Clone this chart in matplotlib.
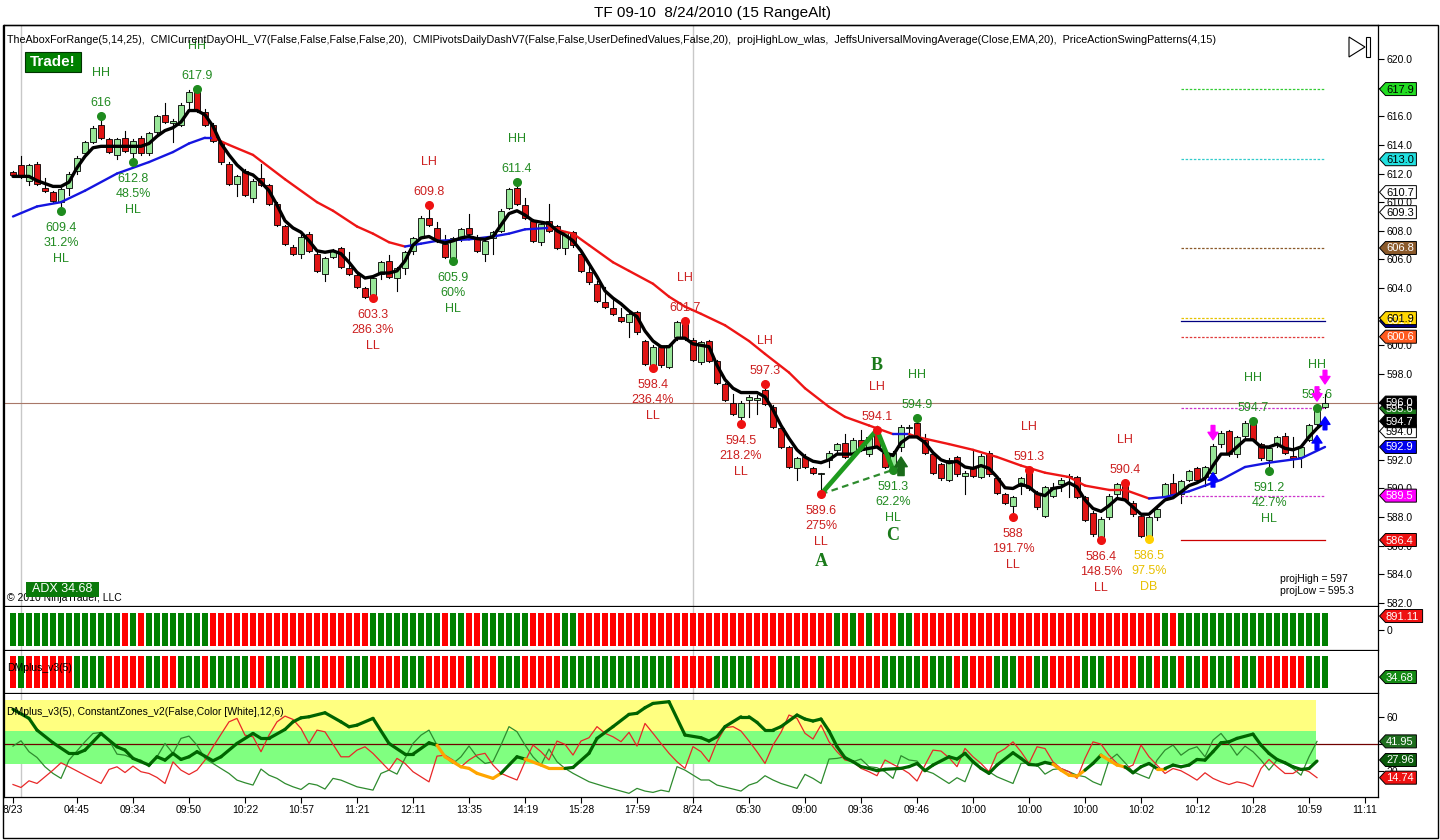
import matplotlib
matplotlib.use("Agg")
import matplotlib.pyplot as plt
from matplotlib.patches import Rectangle, Polygon
import numpy as np

plt.rcParams['font.family'] = ['Liberation Sans', 'DejaVu Sans']

# ---------------- data ----------------
opens = [612.1, 612.6, 611.5, 612.7, 611.0, 610.7, 610.0, 611.0, 612.2, 613.4,
         614.2, 615.4, 614.4, 613.3, 614.5, 613.4, 614.5, 613.4, 614.9, 616.1,
         615.5, 615.4, 617.0, 617.8, 616.3, 615.4, 614.2, 612.7, 611.3, 612.2,
         610.3, 611.7, 611.2, 609.9, 608.3, 606.9, 606.4, 607.8, 606.4, 605.0,
         606.2, 606.8, 605.4, 604.9, 604.0, 603.5, 605.0, 605.9, 604.7, 605.4,
         606.6, 607.6, 608.9, 608.2, 607.1, 606.1, 607.5, 608.2, 607.6, 606.4,
         607.5, 608.0, 609.6, 611.0, 609.8, 608.7, 607.2, 608.7, 608.3, 606.8,
         607.9, 606.4, 605.1, 604.3, 603.0, 602.6, 602.0, 601.6, 602.3, 600.3,
         598.6, 599.9, 598.5, 600.6, 601.6, 600.4, 598.8, 600.3, 598.9, 597.3,
         596.0, 595.0, 596.2, 596.2, 596.9, 595.7, 594.2, 592.9, 591.4, 592.2,
         591.4, 591.0, 592.0, 592.7, 593.2, 592.5, 593.4, 592.4, 593.9, 592.5,
         591.4, 592.9, 594.2, 594.6, 593.4, 592.4, 591.7, 590.6, 592.2, 590.9,
         591.4, 590.8, 592.5, 590.7, 589.6, 588.8, 590.2, 591.3, 589.7, 588.1,
         589.5, 590.3, 590.9, 590.8, 589.4, 588.3, 586.6, 588.0, 589.6, 590.4,
         589.0, 588.1, 586.6, 588.0, 589.4, 590.4, 589.6, 590.6, 591.4, 590.8,
         591.1, 593.1, 594.0, 592.4, 593.7, 594.7, 593.1, 592.0, 593.1, 593.7,
         592.3, 592.2, 593.4, 594.5, 595.7]
closes = [611.9, 611.8, 612.6, 611.3, 610.8, 610.1, 610.9, 612.0, 613.1, 614.2,
          615.2, 614.5, 613.5, 614.4, 613.6, 614.3, 613.4, 614.8, 616.0, 615.6,
          615.7, 616.8, 617.7, 616.4, 615.4, 614.3, 612.8, 611.3, 611.8, 610.5,
          611.5, 611.2, 609.9, 608.4, 607.1, 606.4, 607.6, 606.6, 605.2, 606.1,
          606.6, 605.5, 605.0, 604.1, 603.4, 604.7, 605.8, 604.8, 605.4, 606.5,
          607.5, 608.9, 608.4, 607.3, 606.2, 607.5, 608.1, 607.8, 606.6, 607.3,
          607.9, 609.4, 610.9, 609.9, 608.9, 607.3, 608.5, 608.0, 606.8, 607.9,
          607.0, 605.2, 604.4, 603.1, 602.7, 602.2, 601.7, 602.2, 600.9, 598.7,
          599.9, 598.6, 600.0, 601.6, 600.5, 599.0, 600.2, 598.9, 597.4, 596.2,
          595.2, 596.0, 596.4, 596.3, 595.9, 594.3, 592.9, 591.5, 592.1, 591.5,
          591.1, 591.1, 592.5, 593.1, 592.2, 593.4, 592.7, 593.6, 592.9, 591.5,
          592.5, 594.3, 594.3, 593.6, 592.5, 591.1, 590.7, 592.0, 591.0, 591.1,
          590.9, 592.3, 591.0, 589.7, 589.0, 589.4, 590.7, 590.0, 588.7, 590.1,
          590.1, 590.6, 590.8, 589.4, 587.8, 586.8, 587.9, 589.5, 590.3, 589.2,
          588.2, 586.7, 588.0, 588.6, 590.3, 589.6, 590.5, 591.2, 590.6, 591.5,
          593.0, 593.9, 592.4, 593.6, 594.6, 593.4, 592.1, 592.8, 593.6, 592.5,
          592.1, 592.9, 594.4, 595.6, 596.0]
highs = [612.2, 613.2, 612.7, 612.8, 611.7, 610.8, 611.0, 612.1, 613.2, 614.3,
         615.3, 616.0, 614.5, 614.5, 615.0, 614.4, 614.6, 614.9, 616.1, 616.9,
         615.8, 616.9, 617.8, 617.9, 616.5, 615.5, 614.3, 612.8, 611.9, 612.3,
         611.6, 612.7, 611.3, 610.0, 608.4, 607.0, 607.7, 607.9, 606.5, 606.2,
         606.7, 606.9, 606.5, 605.0, 604.1, 604.8, 605.9, 606.3, 605.5, 606.6,
         607.6, 609.0, 609.8, 608.6, 607.7, 607.6, 608.2, 609.2, 607.7, 607.4,
         608.0, 609.5, 611.0, 611.4, 610.3, 608.8, 608.6, 609.9, 608.4, 608.0,
         608.0, 606.5, 605.5, 604.5, 604.1, 603.3, 602.6, 602.3, 602.4, 600.4,
         600.0, 600.0, 600.1, 601.7, 601.7, 600.5, 600.3, 600.4, 599.0, 597.4,
         596.6, 596.1, 596.5, 596.5, 597.3, 595.8, 594.3, 593.0, 592.2, 592.4,
         591.5, 591.1, 592.6, 593.2, 593.8, 593.5, 594.1, 593.7, 594.1, 592.6,
         592.6, 594.4, 594.4, 594.9, 593.8, 592.5, 591.8, 592.1, 592.3, 591.2,
         592.6, 592.4, 592.6, 590.8, 589.7, 589.5, 590.8, 591.3, 589.8, 590.2,
         590.4, 590.7, 591.0, 590.9, 589.5, 588.4, 588.0, 589.6, 590.4, 590.4,
         589.1, 588.2, 588.1, 588.7, 590.4, 591.0, 590.6, 591.3, 591.5, 591.6,
         593.1, 594.0, 594.1, 593.7, 594.7, 594.7, 593.2, 592.9, 593.7, 593.9,
         593.6, 593.0, 594.5, 595.6, 596.6]
lows = [611.8, 611.7, 611.2, 611.2, 610.7, 610.0, 609.4, 610.5, 612.0, 613.2,
        614.1, 614.4, 613.4, 613.0, 613.5, 612.8, 613.3, 613.3, 614.6, 615.5,
        614.2, 615.3, 616.5, 616.3, 615.3, 614.2, 612.7, 611.2, 610.4, 610.4,
        610.0, 611.1, 609.8, 608.3, 607.0, 606.3, 606.1, 606.5, 605.1, 604.5,
        606.1, 605.4, 604.9, 604.0, 603.3, 603.3, 604.6, 604.7, 603.8, 605.0,
        606.4, 607.5, 608.3, 607.2, 606.1, 605.9, 607.3, 607.7, 606.5, 605.9,
        606.4, 607.9, 609.5, 609.8, 608.8, 607.2, 607.0, 607.9, 606.7, 606.4,
        606.9, 605.1, 604.3, 603.0, 602.6, 602.1, 601.6, 600.6, 600.8, 598.6,
        598.4, 598.5, 598.4, 600.4, 600.4, 598.9, 598.7, 598.8, 597.3, 596.1,
        595.1, 594.5, 595.0, 595.2, 595.8, 594.2, 592.8, 591.4, 590.6, 591.4,
        591.0, 589.6, 591.5, 592.5, 592.1, 592.3, 592.6, 592.3, 592.8, 591.4,
        591.3, 592.6, 593.6, 593.5, 592.4, 591.0, 590.6, 590.5, 590.9, 589.6,
        590.8, 590.7, 590.9, 589.6, 588.9, 588.0, 589.6, 589.9, 588.6, 588.0,
        589.4, 589.8, 589.4, 589.3, 587.7, 586.7, 586.4, 587.9, 589.5, 589.1,
        588.1, 586.6, 586.5, 587.8, 589.2, 589.5, 589.0, 590.5, 590.5, 590.2,
        591.0, 592.9, 592.3, 592.2, 593.5, 593.3, 592.0, 591.2, 592.9, 592.4,
        591.5, 591.5, 593.3, 594.4, 595.6]

# fast moving average (black), read per bar
fast_ma = [611.8, 611.8, 611.8, 611.5, 611.3, 611.1, 611.1, 611.4, 612.4, 613.2,
           613.8, 613.9, 613.9, 613.9, 613.9, 613.9, 613.9, 614.1, 614.6, 615.0,
           615.2, 615.6, 616.4, 616.4, 616.1, 615.3, 614.1, 613.3, 612.6, 612.1,
           611.9, 611.4, 610.8, 609.8, 608.7, 608.2, 607.9, 607.3, 606.6, 606.5,
           606.6, 606.4, 605.8, 605.1, 604.7, 604.8, 605.05, 605.05, 605.2, 605.9,
           607.0, 607.5, 607.6, 607.3, 607.15, 607.3, 607.5, 607.6, 607.45, 607.4,
           607.6, 608.4, 609.2, 609.4, 609.1, 608.7, 608.6, 608.5, 608.0, 607.7,
           607.3, 606.6, 605.7, 604.8, 603.8, 603.3, 602.9, 602.4, 602.0, 601.0,
           600.3, 599.9, 599.9, 600.5, 600.5, 600.1, 600.0, 599.9, 598.6, 597.6,
           597.0, 596.7, 596.7, 596.7, 596.4, 595.5, 594.4, 593.5, 592.7, 592.2,
           591.9, 591.8, 592.0, 592.4, 592.4, 592.4, 592.7, 592.8, 592.9, 592.5,
           592.3, 593.2, 593.6, 593.6, 593.2, 592.5, 592.0, 591.8, 591.9, 591.5,
           591.4, 591.6, 591.4, 590.8, 590.05, 590.0, 590.3, 590.1, 589.65, 589.5,
           590.0, 590.1, 590.4, 590.1, 589.2, 588.6, 588.4, 588.8, 589.3, 589.2,
           588.7, 588.2, 588.2, 588.7, 589.2, 589.35, 589.75, 590.2, 590.4, 590.7,
           591.6, 592.4, 592.4, 592.9, 593.4, 593.4, 592.9, 592.9, 593.1, 592.8,
           592.7, 592.9, 593.6, 594.2, 594.7]

# slow moving average (blue rising / red falling), read at sample bars
slow_idx = [0, 3, 6, 9, 13, 17, 20, 22, 24, 25, 27, 30, 34, 38, 40, 43, 45, 47, 49, 51,
            53, 57, 60, 62, 64, 67, 70, 72, 75, 77, 80, 82, 84, 86, 89, 92, 94, 97, 99, 102,
            104, 107, 110, 112, 113, 117, 120, 123, 126, 129, 132, 134, 137, 139, 142, 144,
            147, 151, 154, 157, 161, 164]
slow_val = [609.0, 609.7, 610.0, 610.8, 612.0, 612.8, 613.5, 614.1, 614.5, 614.5,
            614.0, 613.3, 611.6, 610.0, 609.4, 608.3, 607.8, 607.2, 606.9, 607.1,
            607.3, 607.4, 607.6, 607.8, 608.1, 608.2, 607.8, 607.0, 605.8, 605.2,
            604.3, 603.4, 602.7, 602.2, 601.4, 600.3, 599.4, 598.1, 597.0, 595.7,
            595.0, 594.4, 593.8, 593.8, 593.6, 593.1, 592.7, 592.2, 591.6, 591.1,
            590.8, 590.2, 589.9, 589.9, 589.3, 589.4, 589.8, 590.6, 591.5, 591.8,
            592.1, 592.9]
slow_trend = ("BBBBBBBBB" + "RRRRRRRRR" + "BBBBBBB" + "RRRRRRRRRRRRRRRRR" + "B"
              + "RRRRRRRRRRR" + "BBBBBBBB")

# swing points
sw_hi_idx = [11, 23, 52, 63, 84, 94, 108, 113, 127, 139, 155, 163]
sw_hi_val = [616.0, 617.9, 609.8, 611.4, 601.7, 597.3, 594.1, 594.9, 591.3, 590.4, 594.7, 595.6]
sw_hi_txt = ['616', '617.9', '609.8', '611.4', '601.7', '597.3', '594.1', '594.9', '591.3', '590.4', '594.7', '595.6']
sw_hi_type = ['HH', 'HH', 'LH', 'HH', 'LH', 'LH', 'LH', 'HH', 'LH', 'LH', 'HH', 'HH']
sw_lo_idx = [6, 15, 45, 55, 80, 91, 101, 110, 125, 136, 142, 157]
sw_lo_val = [609.4, 612.8, 603.3, 605.9, 598.4, 594.5, 589.6, 591.3, 588.0, 586.4, 586.5, 591.2]
sw_lo_txt = ['609.4', '612.8', '603.3', '605.9', '598.4', '594.5', '589.6', '591.3', '588', '586.4', '586.5', '591.2']
sw_lo_pct = ['31.2%', '48.5%', '286.3%', '60%', '236.4%', '218.2%', '275%', '62.2%', '191.7%', '148.5%', '97.5%', '42.7%']
sw_lo_type = ['HL', 'HL', 'LL', 'HL', 'LL', 'LL', 'LL', 'HL', 'LL', 'LL', 'DB', 'HL']

abc_idx = [101, 108, 110]
abc_val = [589.6, 594.1, 591.3]
abc_lbl = ['A', 'B', 'C']

# projected levels drawn at right side
lvl_val = [617.9, 613.0, 606.8, 601.9, 601.7, 600.6, 595.6, 589.5, 586.4]
lvl_col = ['#33CC33', '#33CCCC', '#8B5A2B', '#E6C200', '#000080', '#E03C3C', '#CC33CC', '#CC33CC', '#CC0000']
lvl_ls = ['--', '--', '--', '--', '-', '--', '--', '--', '-']
lvl_start, lvl_end = 146, 164

# arrows near the end
up_idx = [150, 163, 164]
up_tail = [590.1, 592.7, 594.1]
up_head = [591.1, 593.7, 595.0]
dn_idx = [150, 163, 164]
dn_tail = [594.4, 597.1, 598.25]
dn_head = [593.4, 596.1, 597.3]
sig_idx, sig_tail, sig_head = 111, 590.9, 592.2

last_price = 596.0
session_idx = [1, 85]

# right axis tags
ptag_val = [617.9, 613.0, 610.7, 609.3, 606.8, 601.7, 601.9, 600.6, 595.6, 596.0, 594.0, 594.7, 592.9, 589.5, 586.4]
ptag_txt = ['617.9', '613.0', '610.7', '609.3', '606.8', '601.7', '601.9', '600.6', '595.6', '596.0', '594.0', '594.7', '592.9', '589.5', '586.4']
ptag_fc = ['#22DD22', '#22E0E0', 'white', 'white', '#8B5A2B', '#000080', '#FFD700', '#FF5A1F', '#1E7B1E',
           'black', 'white', 'black', '#0000EE', '#FF00FF', '#EE1111']
ptag_tc = ['black', 'black', 'black', 'black', 'white', 'white', 'black', 'white', 'white',
           'white', 'black', 'white', 'white', 'white', 'white']

# indicator strips (G = green, R = red)
strip1_runs = [('G', 14), ('R', 1), ('G', 1), ('R', 1), ('G', 8), ('R', 20), ('G', 9), ('R', 1), ('G', 2),
               ('R', 2), ('G', 6), ('R', 4), ('G', 2), ('R', 32), ('G', 1), ('R', 1), ('G', 1), ('R', 1),
               ('G', 1), ('R', 3), ('G', 2), ('R', 31), ('G', 1), ('R', 1), ('G', 19)]
strip2_runs = [('R', 1), ('G', 1), ('R', 6), ('G', 4), ('R', 5), ('G', 2), ('R', 2), ('G', 3), ('R', 1),
               ('G', 5), ('R', 2), ('G', 4), ('R', 1), ('G', 2), ('R', 3), ('G', 3), ('R', 4), ('G', 3),
               ('R', 5), ('G', 1), ('R', 3), ('G', 3), ('R', 5), ('G', 14), ('R', 5), ('G', 5), ('R', 3),
               ('G', 3), ('R', 2), ('G', 1), ('R', 7), ('G', 5), ('R', 1), ('G', 3), ('R', 1), ('G', 1),
               ('R', 3), ('G', 3), ('R', 2), ('G', 2), ('R', 4), ('G', 3), ('R', 4), ('G', 2), ('R', 1),
               ('G', 2), ('R', 1), ('G', 2), ('R', 1), ('G', 3), ('R', 1), ('G', 2), ('R', 6), ('G', 3)]

# oscillator lines
adx_idx = [0, 2, 3, 5, 7, 8, 9, 11, 13, 14, 15, 17, 18, 19, 20, 21, 22, 23, 25, 26, 28, 30, 31, 32, 34,
           35, 36, 37, 39, 41, 42, 43, 45, 47, 49, 50, 52, 53, 54, 55, 56, 57, 58, 60, 61, 63, 64, 66,
           67, 69, 70, 72, 73, 75, 77, 78, 79, 80, 82, 84, 86, 87, 88, 89, 91, 92, 93, 94, 95, 96, 98,
           99, 100, 101, 102, 103, 104, 105, 106, 107, 108, 109, 111, 112, 113, 114, 115, 117, 118,
           119, 120, 121, 122, 123, 125, 126, 127, 128, 129, 130, 131, 132, 133, 134, 135, 136, 137,
           138, 139, 140, 141, 142, 143, 144, 145, 146, 147, 148, 149, 150, 151, 152, 153, 155, 156,
           157, 158, 159, 160, 161, 162, 163]
adx_val = [66.0, 59.2, 50.4, 40.9, 32.9, 32.9, 35.4, 47.9, 37.9, 35.4, 29.2, 24.2, 30.4, 27.9, 32.9,
           28.4, 30.4, 34.2, 27.4, 30.4, 40.4, 47.9, 44.2, 44.2, 50.9, 56.6, 59.6, 60.4, 63.4, 56.6,
           52.9, 54.1, 59.2, 40.4, 32.4, 32.4, 40.9, 39.1, 30.4, 26.6, 22.9, 21.7, 18.0, 14.2, 18.0,
           30.4, 28.7, 24.2, 21.7, 21.7, 22.4, 33.0, 44.2, 53.0, 62.2, 63.0, 67.2, 70.4, 71.7, 46.7,
           44.7, 42.2, 45.4, 53.0, 60.4, 60.4, 56.2, 50.4, 50.4, 53.0, 61.7, 58.7, 57.2, 58.7, 49.7,
           38.0, 29.7, 26.7, 23.0, 21.7, 20.0, 21.0, 21.7, 23.0, 25.4, 20.0, 24.2, 30.4, 28.7, 33.0,
           26.7, 21.7, 18.0, 24.2, 33.4, 29.2, 24.6, 24.2, 26.2, 24.9, 20.4, 16.6, 15.9, 20.4, 25.4,
           31.6, 27.9, 24.2, 22.9, 18.4, 22.9, 25.4, 21.6, 21.6, 24.2, 22.9, 24.2, 28.4, 27.9, 34.2,
           40.9, 41.6, 44.2, 47.4, 39.2, 32.9, 28.4, 25.9, 22.9, 20.9, 21.6, 27.2]
adx_orange_from = [53, 54, 55, 56, 57, 58, 60, 64, 66, 67, 130, 131, 132, 133, 136, 137, 138, 143]

dip_idx = [0, 1, 2, 3, 4, 5, 6, 7, 9, 10, 11, 12, 13, 14, 15, 16, 17, 18, 19, 20, 21, 22, 23, 24, 26,
           27, 28, 29, 30, 31, 32, 33, 34, 35, 36, 37, 38, 39, 40, 41, 42, 43, 45, 46, 47, 48, 49, 50,
           51, 52, 53, 54, 55, 56, 57, 58, 59, 60, 61, 62, 63, 64, 65, 66, 67, 68, 69, 70, 72, 74, 76,
           77, 78, 79, 80, 81, 82, 83, 84, 86, 87, 88, 90, 91, 92, 93, 94, 95, 96, 98, 99, 100, 101,
           102, 103, 104, 105, 106, 107, 108, 109, 110, 111, 112, 113, 114, 115, 116, 117, 118, 119,
           120, 121, 122, 123, 125, 126, 127, 128, 129, 130, 131, 132, 133, 134, 135, 136, 137, 138,
           139, 140, 141, 142, 143, 144, 145, 146, 147, 148, 149, 150, 151, 152, 153, 154, 155, 156,
           157, 158, 159, 160, 161, 162, 163]
dip_val = [38.4, 42.4, 34.2, 29.9, 22.9, 17.9, 14.2, 27.9, 41.7, 47.9, 48.6, 42.9, 32.4, 31.6, 29.2,
           27.9, 22.9, 30.4, 40.4, 32.9, 44.2, 45.9, 39.1, 29.2, 21.6, 17.9, 12.9, 10.9, 9.2, 21.2,
           16.6, 14.2, 10.4, 7.9, 5.9, 10.4, 9.2, 6.2, 14.2, 12.9, 10.4, 7.9, 5.4, 17.9, 20.4, 17.4,
           29.2, 40.4, 46.6, 50.4, 39.1, 30.4, 25.4, 30.4, 38.5, 30.4, 25.4, 26.7, 39.2, 53.0, 49.2,
           39.2, 30.4, 24.2, 36.2, 26.7, 21.7, 18.0, 11.7, 8.0, 4.7, 3.0, 6.7, 4.7, 3.7, 5.4, 4.2,
           23.0, 20.4, 13.0, 13.0, 9.2, 6.2, 4.7, 9.2, 11.2, 16.2, 13.0, 10.4, 6.7, 17.2, 14.2, 10.4,
           28.7, 29.2, 30.4, 26.7, 28.7, 23.0, 22.2, 19.2, 14.2, 31.2, 28.0, 27.2, 20.0, 18.0, 14.2,
           10.4, 14.7, 11.7, 26.7, 21.7, 19.2, 15.4, 10.4, 25.4, 25.9, 24.2, 17.4, 20.9, 21.6, 19.2,
           16.6, 15.4, 11.6, 9.2, 27.9, 32.4, 25.9, 19.2, 16.6, 14.2, 27.9, 35.4, 39.2, 31.6, 35.9,
           37.9, 30.4, 42.9, 47.9, 40.4, 31.6, 38.4, 34.2, 27.9, 20.4, 27.9, 25.4, 21.6, 16.6, 30.4,
           41.95]

dim_idx = [0, 1, 2, 3, 4, 5, 6, 7, 9, 11, 12, 13, 14, 15, 16, 17, 18, 19, 20, 21, 22, 23, 24, 25, 27,
           28, 29, 30, 31, 32, 33, 34, 35, 36, 37, 38, 39, 41, 42, 43, 44, 45, 46, 47, 48, 49, 50, 51,
           52, 53, 54, 55, 56, 57, 58, 59, 60, 61, 62, 63, 64, 65, 66, 67, 68, 69, 70, 71, 72, 73, 74,
           75, 76, 77, 78, 79, 80, 81, 82, 83, 84, 85, 86, 87, 88, 89, 90, 91, 92, 93, 94, 95, 96, 97,
           98, 99, 100, 101, 102, 103, 104, 105, 106, 107, 108, 109, 110, 111, 112, 113, 114, 115, 116,
           117, 118, 119, 120, 121, 122, 123, 124, 125, 126, 127, 128, 129, 130, 131, 132, 133, 134,
           135, 136, 137, 138, 139, 140, 141, 142, 143, 144, 145, 146, 147, 148, 149, 150, 151, 152,
           153, 154, 155, 156, 157, 158, 159, 160, 161, 162, 163]
dim_val = [9.6, 7.4, 12.4, 10.4, 15.4, 20.4, 25.9, 22.9, 16.6, 10.4, 20.9, 22.9, 18.6, 23.4, 19.2,
           17.9, 14.9, 10.4, 26.6, 20.4, 17.1, 20.4, 27.9, 37.9, 56.6, 59.2, 46.6, 45.4, 34.2, 46.6,
           56.6, 60.9, 58.4, 51.6, 40.4, 50.4, 49.1, 30.4, 30.4, 35.4, 37.9, 32.9, 26.6, 20.4, 29.2,
           25.4, 19.2, 15.4, 11.6, 30.9, 31.6, 27.9, 22.9, 28.0, 31.7, 33.0, 24.2, 18.0, 15.4, 13.0,
           26.7, 39.2, 34.2, 28.0, 42.2, 39.7, 31.7, 42.2, 44.7, 53.0, 48.0, 45.4, 41.7, 48.7, 38.4,
           55.4, 48.0, 40.4, 33.0, 26.7, 21.7, 38.0, 34.2, 26.7, 41.7, 52.2, 53.0, 49.7, 42.2, 34.2,
           25.4, 39.2, 48.7, 61.7, 59.2, 48.0, 43.7, 54.2, 41.7, 34.2, 28.0, 26.7, 21.7, 19.2, 16.2,
           28.0, 24.7, 21.7, 18.0, 12.2, 24.2, 35.4, 34.7, 29.7, 23.0, 36.7, 30.4, 25.4, 19.2, 33.0,
           36.5, 41.6, 34.2, 25.4, 37.9, 36.6, 26.6, 21.6, 19.2, 14.2, 29.2, 41.6, 39.9, 31.6, 25.4,
           21.6, 24.2, 39.2, 30.4, 24.2, 17.9, 21.6, 19.9, 16.6, 12.9, 18.4, 14.2, 11.6, 9.6, 11.6,
           10.4, 7.9, 21.6, 28.4, 22.9, 17.9, 17.9, 21.6, 19.2, 14.74]

zone_green = (25, 50)
zone_yellow = (50, 73)
osc_ref = 40
zone_end = 162.9

time_idx = [0, 8, 15, 22, 29, 36, 43, 50, 57, 64, 71, 78, 85, 92, 99, 106, 113, 120, 127, 134, 141, 148, 155, 162, 169]
time_lbl = ['8/23', '04:45', '09:34', '09:50', '10:22', '10:57', '11:21', '12:11', '13:35', '14:19', '15:28',
            '17:59', '8/24', '05:30', '09:00', '09:36', '09:46', '10:00', '10:00', '10:00', '10:02', '10:12',
            '10:28', '10:59', '11:11']

# ---------------- layout ----------------
W, H = 1440, 840
fig = plt.figure(figsize=(W / 100, H / 100), dpi=100)
fig.patch.set_facecolor('white')


def px_rect(x0, y0, x1, y1):
    return [x0 / W, 1 - y1 / H, (x1 - x0) / W, (y1 - y0) / H]


XL, XR = 4, 1378
ax = fig.add_axes(px_rect(XL, 25, XR, 606))
ax2 = fig.add_axes(px_rect(XL, 607, XR, 650))
ax3 = fig.add_axes(px_rect(XL, 651, XR, 693))
ax4 = fig.add_axes(px_rect(XL, 694, XR, 797))
XMIN, XMAX = -1.125, 170.625
for a in (ax, ax2, ax3, ax4):
    a.set_xlim(XMIN, XMAX)
    a.set_facecolor('white')
    for s in a.spines.values():
        s.set_color('black')
        s.set_linewidth(0.9)
    a.yaxis.tick_right()
    a.tick_params(axis='y', direction='out', length=4, width=0.8, pad=2, labelsize=7.5, colors='black')
    for si in session_idx:
        a.axvline(si, color='#C8C8C8', lw=1.0, zorder=0.5)
for a in (ax, ax2, ax3):
    a.set_xticks([])
for a in (ax2, ax3, ax4):
    a.spines['top'].set_visible(False)

# ---------------- main price panel ----------------
ax.set_ylim(581.79, 622.375)
ax.set_yticks(np.arange(582, 621, 2))
ax.set_yticklabels(['%.1f' % v for v in np.arange(582, 621, 2)])

ax.axhline(last_price, color='#A87868', lw=0.8, zorder=1)

for i in range(len(opens)):
    o, h, l, c = opens[i], highs[i], lows[i], closes[i]
    up = c >= o
    ax.plot([i, i], [l, h], color='black', lw=0.8, zorder=2)
    bot = min(o, c)
    hgt = max(abs(c - o), 0.04)
    ax.add_patch(Rectangle((i - 0.37, bot), 0.74, hgt, fc='#98E698' if up else '#E01515',
                           ec='black', lw=0.6, zorder=3))

ax.plot(range(len(fast_ma)), fast_ma, color='black', lw=2.4, zorder=6, solid_capstyle='round')
for k in range(len(slow_idx) - 1):
    col = '#1515E0' if slow_trend[k] == 'B' else '#EE1515'
    ax.plot(slow_idx[k:k + 2], slow_val[k:k + 2], color=col, lw=1.7, zorder=5, solid_capstyle='round')

for v, col, ls in zip(lvl_val, lvl_col, lvl_ls):
    ax.plot([lvl_start, lvl_end], [v, v], color=col, lw=0.9, ls=ls,
            dashes=(2.0, 1.3) if ls == '--' else (None, None), zorder=4)

GREEN_T = '#228B22'
RED_T = '#CC1F1F'
YEL_T = '#E8C000'


def tcol(t):
    return GREEN_T if t in ('HH', 'HL') else (YEL_T if t == 'DB' else RED_T)


def dcol(t):
    return '#1E8B1E' if t in ('HH', 'HL') else ('#FFD000' if t == 'DB' else '#EE1111')


for i, v, tx, ty in zip(sw_hi_idx, sw_hi_val, sw_hi_txt, sw_hi_type):
    ax.plot(i, v, 'o', ms=5.5, color=dcol(ty), zorder=8)
    ax.annotate(tx, (i, v), xytext=(0, 13), textcoords='offset pixels', ha='center', va='center',
                fontsize=9, color=tcol(ty), zorder=9)
    ax.annotate(ty, (i, v), xytext=(0, 43), textcoords='offset pixels', ha='center', va='center',
                fontsize=9, color=tcol(ty), zorder=9)
for i, v, tx, pc, ty in zip(sw_lo_idx, sw_lo_val, sw_lo_txt, sw_lo_pct, sw_lo_type):
    ax.plot(i, v, 'o', ms=5.5, color=dcol(ty), zorder=8)
    for off, s in ((-17, tx), (-32, pc), (-48, ty)):
        ax.annotate(s, (i, v), xytext=(0, off), textcoords='offset pixels', ha='center', va='center',
                    fontsize=9, color=tcol(ty), zorder=9)

# ABC pattern
ax.plot(abc_idx, abc_val, color='#1E9A1E', lw=3.4, zorder=7, solid_joinstyle='miter')
ax.plot([abc_idx[0], abc_idx[2]], [abc_val[0], abc_val[2]], color='#2E8B2E', lw=1.6, ls='--',
        dashes=(3, 2), zorder=7)
for i, v, s, off in zip(abc_idx, abc_val, abc_lbl, (-67, 64, -66)):
    ax.annotate(s, (i, v), xytext=(0, off), textcoords='offset pixels', ha='center', va='center',
                fontsize=13, fontweight='bold', family=['Liberation Serif', 'DejaVu Serif'],
                color='#1A7A1A', zorder=9)

# arrows
ax.annotate('', xy=(sig_idx, sig_head), xytext=(sig_idx, sig_tail),
            arrowprops=dict(arrowstyle='simple,head_length=0.7,head_width=0.9,tail_width=0.45',
                            fc='#1A6B1A', ec='#1A6B1A', shrinkA=0, shrinkB=0), zorder=9)
for i, t, hd in zip(up_idx, up_tail, up_head):
    ax.annotate('', xy=(i, hd), xytext=(i, t),
                arrowprops=dict(arrowstyle='simple,head_length=0.6,head_width=0.8,tail_width=0.3',
                                fc='#0000FF', ec='#0000FF', shrinkA=0, shrinkB=0, mutation_scale=9), zorder=9)
for i, t, hd in zip(dn_idx, dn_tail, dn_head):
    ax.annotate('', xy=(i, hd), xytext=(i, t),
                arrowprops=dict(arrowstyle='simple,head_length=0.6,head_width=0.8,tail_width=0.3',
                                fc='#FF00FF', ec='#FF00FF', shrinkA=0, shrinkB=0, mutation_scale=9), zorder=9)

# ---------------- strips ----------------
def expand(runs):
    out = []
    for ch, n in runs:
        out.extend([ch] * n)
    return out


s1 = expand(strip1_runs)
s2 = expand(strip2_runs)
GC, RC = '#008000', '#FF0000'
ax2.set_ylim(0, 1)
ax2.bar(range(len(s1)), 0.767, bottom=0.093, width=0.87, color=[GC if c == 'G' else RC for c in s1], zorder=2)
ax2.set_yticks([0.465])
ax2.set_yticklabels(['0'])
ax3.set_ylim(0, 1)
ax3.bar(range(len(s2)), 0.762, bottom=0.119, width=0.87, color=[GC if c == 'G' else RC for c in s2], zorder=2)
ax3.set_yticks([])

# ---------------- oscillator ----------------
ax4.set_ylim(0.25, 77.47)
ax4.add_patch(Rectangle((XMIN, zone_yellow[0]), zone_end - XMIN, zone_yellow[1] - zone_yellow[0],
                        fc='#FFFF80', ec='none', zorder=1))
ax4.add_patch(Rectangle((XMIN, zone_green[0]), zone_end - XMIN, zone_green[1] - zone_green[0],
                        fc='#80FF80', ec='none', zorder=1))
ax4.axhline(osc_ref, color='#700000', lw=0.9, zorder=2)
ax4.plot(dip_idx, dip_val, color='#2E8B2E', lw=0.9, zorder=3)
ax4.plot(dim_idx, dim_val, color='#E82828', lw=0.9, zorder=3)
for k in range(len(adx_idx) - 1):
    col = '#FFA500' if adx_idx[k] in adx_orange_from else '#006400'
    ax4.plot(adx_idx[k:k + 2], adx_val[k:k + 2], color=col, lw=2.3, zorder=4, solid_capstyle='round')
ax4.set_yticks([20, 40, 60])
ax4.set_yticklabels(['20', '40', '60'])
ax4.set_xticks(time_idx)
ax4.set_xticklabels(time_lbl)
ax4.tick_params(axis='x', direction='out', length=4, width=0.8, pad=1.5, labelsize=7.5)

# ---------------- overlay ----------------
ov = fig.add_axes([0, 0, 1, 1])
ov.set_xlim(0, W)
ov.set_ylim(H, 0)
ov.axis('off')
ov.patch.set_alpha(0)
ov.set_zorder(10)


def to_px(a, yv):
    disp = a.transData.transform((0, yv))
    return ov.transData.inverted().transform(disp)[1]


def tag(ypx, txt, fc, tc, ec='black'):
    tw = sum(3.1 if ch == '.' else 6.2 for ch in txt)
    x0, x1 = 1379.5, 1386 + tw + 2.5
    hh = 6.5
    poly = Polygon([(x0, ypx), (x0 + 6, ypx - hh), (x1, ypx - hh), (x1, ypx + hh), (x0 + 6, ypx + hh)],
                   closed=True, fc=fc, ec=ec, lw=0.7, zorder=20)
    ov.add_patch(poly)
    ov.text(1386, ypx + 0.5, txt, fontsize=8, color=tc, ha='left', va='center', zorder=21)


for v, tx, fc, tc in zip(ptag_val, ptag_txt, ptag_fc, ptag_tc):
    tag(to_px(ax, v), tx, fc, tc)
tag(to_px(ax2, 0.79), '891.11', '#EE1111', 'white')
tag(to_px(ax3, 0.38), '34.68', '#138A13', 'white')
tag(to_px(ax4, dip_val[-1]), '41.95', '#1E6E1E', 'white')
tag(to_px(ax4, adx_val[-1] + 0.8), '27.96', '#0B5A0B', 'white')
tag(to_px(ax4, dim_val[-1]), '14.74', '#EE1111', 'white')

# frame
ov.add_patch(Rectangle((3, 25), 1435, 813, fill=False, ec='black', lw=1.0, zorder=5))

ov.text(713, 13, 'TF 09-10  8/24/2010 (15 RangeAlt)', fontsize=11, ha='center', va='center')
ov.text(7, 40, 'TheAboxForRange(5,14,25),  CMICurrentDayOHL_V7(False,False,False,False,20),  '
        'CMIPivotsDailyDashV7(False,False,UserDefinedValues,False,20),  projHighLow_wlas,  '
        'JeffsUniversalMovingAverage(Close,EMA,20),  PriceActionSwingPatterns(4,15)',
        fontsize=7.75, ha='left', va='center')

ov.add_patch(Rectangle((25, 52), 56, 20, fc='#008000', ec='#003300', lw=0.8, zorder=6))
ov.text(53, 62.5, 'Trade!', fontsize=11, fontweight='bold', color='white', ha='center', va='center', zorder=7)

ov.add_patch(Polygon([(1349, 37), (1349, 57), (1365, 47)], closed=True, fill=False, ec='black', lw=0.8))
ov.add_patch(Rectangle((1366, 37), 4, 20, fill=False, ec='black', lw=0.8))

ov.text(7, 598, '\u00a9 2010 NinjaTrader, LLC', fontsize=7.5, ha='left', va='center', zorder=5)
ov.add_patch(Rectangle((26, 582), 73, 15, fc='#0A7A0A', ec='none', zorder=6))
ov.text(62.5, 589.5, 'ADX 34.68', fontsize=9, color='white', ha='center', va='center', zorder=7)

ov.text(1280, 579, 'projHigh = 597', fontsize=7.5, ha='left', va='center')
ov.text(1280, 591, 'projLow = 595.3', fontsize=7.5, ha='left', va='center')

ov.text(7, 668, 'DMplus_v3(5)', fontsize=7.5, ha='left', va='center', zorder=6)
ov.text(7, 712, 'DMplus_v3(5), ConstantZones_v2(False,Color [White],12,6)', fontsize=7.5,
        ha='left', va='center', zorder=6)

fig.savefig('out.png', dpi=100, facecolor='white')
